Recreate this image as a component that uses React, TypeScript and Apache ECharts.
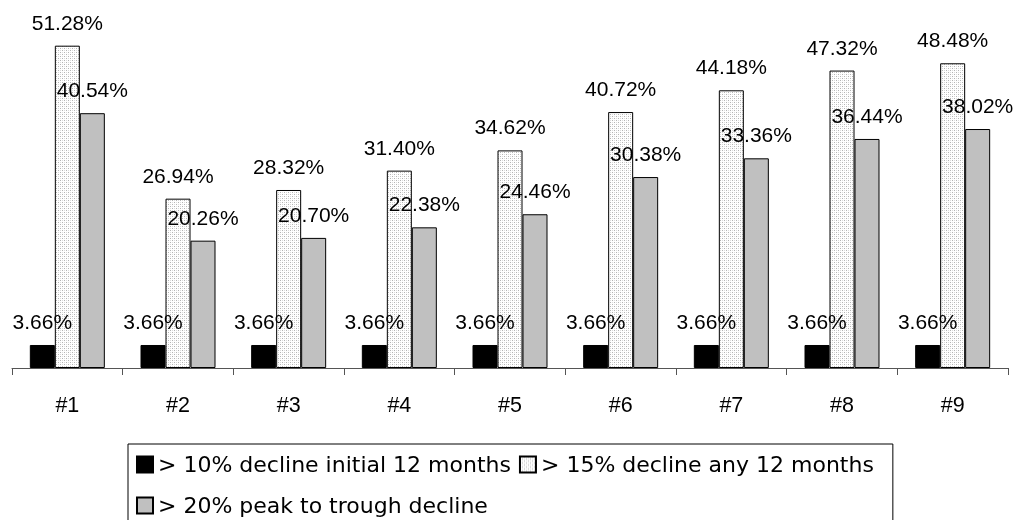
import React, { useEffect, useRef } from 'react';
import * as echarts from 'echarts';

// Scenario labels along the x axis
const categories = ['#1', '#2', '#3', '#4', '#5', '#6', '#7', '#8', '#9'];

// Series names (legend entries)
const seriesNames = [
  '> 10% decline initial 12 months',
  '> 15% decline any 12 months',
  '> 20% peak to trough decline',
];

// Probabilities in percent
const initialDecline = [3.66, 3.66, 3.66, 3.66, 3.66, 3.66, 3.66, 3.66, 3.66];
const anyDecline = [51.28, 26.94, 28.32, 31.4, 34.62, 40.72, 44.18, 47.32, 48.48];
const peakToTrough = [40.54, 20.26, 20.7, 22.38, 24.46, 30.38, 33.36, 36.44, 38.02];

const LABEL_FONT = "'Liberation Sans', Arial, sans-serif";
const LEGEND_FONT = "'DejaVu Sans', sans-serif";

// Small dotted tile used as the fill of the middle series
function makeDotPattern(): HTMLCanvasElement {
  const c = document.createElement('canvas');
  c.width = 4;
  c.height = 4;
  const ctx = c.getContext('2d')!;
  ctx.fillStyle = '#ffffff';
  ctx.fillRect(0, 0, 4, 4);
  ctx.fillStyle = '#b4b4b4';
  ctx.fillRect(0, 0, 1, 1);
  ctx.fillRect(2, 2, 1, 1);
  ctx.fillStyle = '#dcdcdc';
  ctx.fillRect(2, 0, 1, 1);
  ctx.fillRect(0, 2, 1, 1);
  return c;
}

export default function App() {
  const ref = useRef<HTMLDivElement>(null);

  useEffect(() => {
    if (!ref.current) return;
    const chart = echarts.init(ref.current, undefined, { renderer: 'svg' });

    const pattern = { image: makeDotPattern(), repeat: 'repeat' as const };
    const fills: any[] = ['#000000', pattern, '#c0c0c0'];
    const values = [initialDecline, anyDecline, peakToTrough];

    const series = seriesNames.map((name, i) => ({
      name,
      type: 'bar' as const,
      data: values[i],
      barWidth: 25,
      barGap: '0%',
      itemStyle: { color: fills[i], borderColor: '#000', borderWidth: 1 },
      label: {
        show: true,
        position: 'top' as const,
        distance: 13,
        formatter: (p: any) => `${Number(p.value).toFixed(2)}%`,
        fontSize: 21,
        fontFamily: LABEL_FONT,
        color: '#000',
      },
    }));

    chart.setOption({
      animation: false,
      grid: { left: 12, right: 6, top: 22.3, bottom: 152 },
      xAxis: {
        type: 'category',
        data: categories,
        axisLine: { show: true, lineStyle: { color: '#555', width: 1 } },
        axisTick: { show: true, alignWithLabel: false, length: 7, lineStyle: { color: '#555', width: 1 } },
        axisLabel: { margin: 26, fontSize: 21.5, fontFamily: LABEL_FONT, color: '#000' },
      },
      yAxis: { type: 'value', min: 0, max: 55, show: false },
      legend: {
        data: seriesNames,
        orient: 'horizontal',
        left: 128,
        top: 444,
        width: 760,
        icon: 'rect',
        itemWidth: 16,
        itemHeight: 16,
        itemGap: 8,
        padding: [4, 19, 2, 8],
        borderColor: '#000',
        borderWidth: 1,
        textStyle: { fontSize: 22, fontFamily: LEGEND_FONT, color: '#000', lineHeight: 33 },
      },
      series,
    });

    return () => chart.dispose();
  }, []);

  return (
    <div
      ref={ref}
      style={{ position: 'fixed', left: 0, top: 0, width: 1014, height: 520 }}
    />
  );
}
